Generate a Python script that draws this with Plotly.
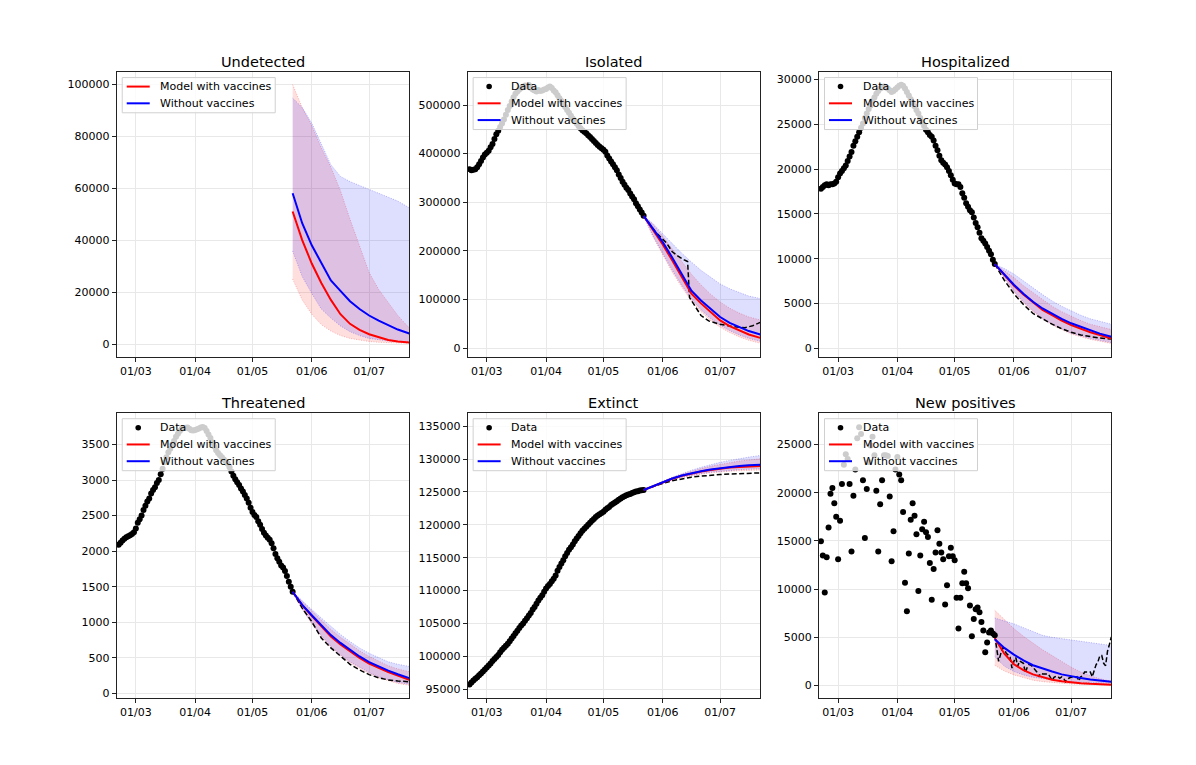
import pandas as pd
import plotly.graph_objects as go

FONT = "DejaVu Sans"
W, H = 1196, 765

# ---- dates ----
data_dates = pd.date_range("2021-02-20", "2021-05-22", freq="D")
after_dates = pd.date_range("2021-05-22", "2021-07-22", freq="D")
model_dates = ["2021-05-22", "2021-05-27", "2021-06-01", "2021-06-06", "2021-06-11",
               "2021-06-16", "2021-06-21", "2021-06-26", "2021-07-01", "2021-07-06",
               "2021-07-11", "2021-07-16", "2021-07-22"]
isolated_after_dates = ["2021-05-22", "2021-05-25", "2021-05-28", "2021-05-31", "2021-06-03",
                        "2021-06-06", "2021-06-09", "2021-06-12", "2021-06-14", "2021-06-15",
                        "2021-06-18", "2021-06-21", "2021-06-25", "2021-07-01", "2021-07-08",
                        "2021-07-14", "2021-07-18", "2021-07-22"]

# ---- Undetected ----
undetected_red = [51000, 40000, 31000, 23500, 17000, 11500, 7800, 5500, 3800, 2600, 1600, 1000, 600]
undetected_blue = [58000, 46500, 38000, 31000, 24500, 20500, 16500, 13500, 11000, 9000, 7200, 5600, 4100]
undetected_red_lo = [25000, 17000, 11500, 7500, 5000, 3300, 2200, 1500, 1000, 700, 500, 400, 300]
undetected_red_hi = [99800, 91000, 84000, 75500, 68000, 59000, 48000, 38000, 27500, 21000, 16000, 11000, 6200]
undetected_blue_lo = [35800, 26000, 19500, 13500, 10000, 7000, 4800, 3300, 2200, 1600, 1200, 1000, 900]
undetected_blue_hi = [94600, 91000, 85000, 77000, 69000, 64500, 62500, 61000, 59500, 58200, 56800, 55000, 52400]

# ---- Isolated ----
isolated_data = [368000, 366000, 367000, 368000, 372000, 378000, 385000, 392000, 398000, 402000,
                 406000, 413000, 420000, 430000, 440000, 447000, 455000, 462000, 470000, 480000,
                 490000, 498000, 507000, 516000, 523000, 528000, 532000, 535000, 537000, 540000,
                 538000, 541000, 535000, 532000, 530000, 528000, 531000, 529000, 530000, 532000,
                 533000, 536000, 538000, 535000, 530000, 526000, 520000, 514000, 508000, 502000,
                 496000, 490000, 484000, 478000, 472000, 467000, 462000, 457000, 452000, 448000,
                 445000, 442000, 438000, 434000, 430000, 426000, 422000, 418000, 414000, 411000,
                 408000, 404000, 396000, 390000, 384000, 378000, 372000, 366000, 357000, 350000,
                 342000, 336000, 330000, 325000, 318000, 312000, 306000, 298000, 292000, 285000,
                 279000, 272000]
isolated_red = [272000, 243000, 213000, 180000, 145000, 112000, 92000, 74000, 57000, 45000, 36000, 28000, 21000]
isolated_blue = [272000, 246000, 218000, 186000, 152000, 118000, 98000, 81000, 64000, 52000, 43000, 35000, 28000]
isolated_red_lo = [272000, 228000, 192000, 156000, 125000, 97000, 75000, 57000, 43000, 32000, 23000, 16000, 10000]
isolated_red_hi = [272000, 254000, 230000, 204000, 178000, 152000, 130000, 111000, 95000, 82000, 72000, 64000, 58000]
isolated_blue_lo = [272000, 230000, 195000, 160000, 129000, 101000, 79000, 61000, 47000, 36000, 27000, 20000, 14000]
isolated_blue_hi = [272000, 256000, 235000, 214000, 195000, 177000, 160000, 146000, 132000, 122000, 114000, 107000, 102000]
isolated_after = [272000, 255000, 240000, 228000, 216000, 198000, 189000, 182000, 178000, 104000,
                  86000, 67000, 56000, 49000, 44000, 42000, 46000, 53000]

# ---- Hospitalized ----
hospitalized_data = [17800, 18000, 18200, 18300, 18200, 18300, 18300, 18400, 18600, 19100,
                     19500, 19800, 20100, 20400, 20900, 21400, 21900, 22600, 23100, 23600,
                     24100, 24600, 25100, 25700, 26200, 26700, 27100, 27600, 28000, 28400,
                     28700, 29000, 29100, 29200, 29100, 29000, 28800, 28600, 28700, 28900,
                     29100, 29300, 29400, 29300, 29000, 28600, 28200, 27800, 27400, 27000,
                     26600, 26200, 25700, 25200, 24800, 24400, 24100, 23800, 23600, 23200,
                     22600, 22100, 21500, 21000, 20700, 20500, 20200, 19800, 19300, 18800,
                     18400, 18300, 18300, 18000, 17300, 16800, 16200, 15800, 15400, 15200,
                     14600, 14000, 13500, 12900, 12300, 12000, 11700, 11300, 10900, 10500,
                     9900, 9400]
hospitalized_red = [9400, 8200, 7000, 6000, 5100, 4300, 3700, 3100, 2600, 2200, 1800, 1500, 1100]
hospitalized_blue = [9400, 8250, 7100, 6100, 5200, 4450, 3850, 3300, 2800, 2400, 2000, 1650, 1300]
hospitalized_red_lo = [9400, 7800, 6300, 5100, 4100, 3300, 2600, 2100, 1600, 1300, 1000, 800, 550]
hospitalized_red_hi = [9400, 8700, 7900, 7000, 6200, 5400, 4700, 4100, 3600, 3100, 2700, 2400, 2100]
hospitalized_blue_lo = [9400, 7900, 6400, 5200, 4200, 3400, 2700, 2200, 1700, 1400, 1100, 900, 650]
hospitalized_blue_hi = [9400, 8900, 8300, 7500, 6700, 6000, 5300, 4700, 4200, 3700, 3300, 3000, 2700]
hospitalized_after = [9400, 7600, 6100, 4900, 3900, 3300, 2700, 2200, 1800, 1500, 1300, 1150, 1050]

# ---- Threatened ----
threatened_data = [2090, 2120, 2150, 2175, 2195, 2210, 2225, 2240, 2265, 2320,
                   2400, 2450, 2500, 2580, 2640, 2700, 2740, 2810, 2860, 2900,
                   2960, 3000, 3080, 3160, 3250, 3320, 3390, 3440, 3500, 3550,
                   3610, 3650, 3690, 3720, 3730, 3735, 3740, 3720, 3700, 3695,
                   3705, 3715, 3725, 3740, 3745, 3730, 3690, 3640, 3590, 3530,
                   3470, 3420, 3380, 3350, 3320, 3290, 3260, 3230, 3180, 3120,
                   3060, 3010, 2970, 2930, 2880, 2840, 2790, 2740, 2680, 2610,
                   2550, 2510, 2480, 2420, 2370, 2310, 2260, 2220, 2190, 2160,
                   2110, 2040, 1960, 1900, 1850, 1800, 1770, 1720, 1650, 1570,
                   1500, 1430]
threatened_red = [1430, 1240, 1090, 940, 800, 690, 590, 500, 420, 355, 300, 250, 190]
threatened_blue = [1430, 1245, 1100, 955, 820, 710, 610, 520, 440, 375, 320, 270, 215]
threatened_red_lo = [1430, 1180, 980, 800, 650, 530, 430, 350, 280, 220, 175, 140, 115]
threatened_red_hi = [1430, 1290, 1160, 1030, 900, 790, 690, 600, 520, 450, 390, 345, 305]
threatened_blue_lo = [1430, 1190, 990, 815, 665, 545, 445, 365, 295, 235, 190, 155, 130]
threatened_blue_hi = [1430, 1300, 1180, 1060, 940, 830, 730, 640, 565, 500, 445, 410, 380]
threatened_after = [1430, 1200, 1010, 780, 640, 520, 410, 330, 265, 220, 190, 175, 165]

# ---- Extinct ----
extinct_data = [95700, 96000, 96300, 96600, 96800, 97100, 97400, 97700, 98000, 98300,
                98600, 98900, 99300, 99600, 99900, 100200, 100600, 101000, 101300, 101600,
                101900, 102300, 102700, 103100, 103500, 103900, 104300, 104700, 105000, 105400,
                105800, 106200, 106600, 107100, 107500, 108000, 108500, 108900, 109300, 109800,
                110300, 110700, 111000, 111400, 111800, 112300, 113000, 113600, 114100, 114600,
                115200, 115700, 116200, 116600, 117000, 117500, 117900, 118300, 118700, 119100,
                119400, 119700, 120000, 120300, 120600, 120900, 121200, 121400, 121600, 121800,
                122000, 122300, 122500, 122700, 123000, 123200, 123400, 123600, 123800, 124000,
                124200, 124350, 124500, 124600, 124700, 124850, 124950, 125050, 125100, 125200,
                125250, 125300]
extinct_red = [125300, 125900, 126500, 127000, 127450, 127800, 128100, 128350, 128550, 128700, 128800, 128900, 128950]
extinct_blue = [125300, 125900, 126500, 127050, 127500, 127850, 128150, 128400, 128600, 128800, 128950, 129050, 129150]
extinct_red_lo = [125300, 125850, 126400, 126850, 127200, 127500, 127700, 127900, 128050, 128150, 128220, 128280, 128320]
extinct_red_hi = [125300, 125950, 126600, 127200, 127700, 128150, 128550, 128900, 129200, 129450, 129700, 129850, 130050]
extinct_blue_lo = [125300, 125850, 126400, 126900, 127250, 127550, 127800, 128000, 128150, 128280, 128380, 128450, 128520]
extinct_blue_hi = [125300, 126000, 126650, 127250, 127800, 128300, 128750, 129150, 129500, 129800, 130100, 130300, 130550]
extinct_after = [125300, 125850, 126300, 126700, 127000, 127250, 127400, 127550, 127650, 127720, 127800, 127850, 127900]

# ---- New positives ----
positives_data = [14970, 13500, 9650, 13300, 16400, 19900, 20500, 18900, 17500, 13100,
                  17100, 20900, 22900, 24000, 23500, 20900, 13900, 19700, 22400, 25650,
                  26800, 26100, 21300, 15300, 20400, 23200, 24900, 25800, 23900, 20200,
                  13900, 18800, 21300, 23900, 23900, 23800, 19600, 12900, 16000, 22400,
                  23700, 21900, 21300, 18000, 10650, 7700, 13700, 17200, 18900, 17600,
                  15700, 9800, 13500, 16200, 17000, 15900, 15400, 12700, 8900, 12100,
                  13800, 16100, 14700, 13800, 13100, 8400, 10400, 13400, 14300, 13400,
                  13000, 9100, 5900, 9100, 10600, 11800, 10600, 10100, 8300, 5100,
                  6900, 7900, 8100, 7600, 6600, 5700, 3450, 4450, 5500, 5700,
                  5400, 5200]
positives_red = [4900, 3300, 2200, 1600, 1150, 850, 600, 450, 330, 240, 170, 120, 80]
positives_blue = [4800, 3900, 3200, 2600, 2100, 1750, 1450, 1150, 950, 780, 630, 500, 380]
positives_red_lo = [2100, 1500, 1100, 800, 550, 400, 300, 220, 160, 120, 90, 70, 50]
positives_red_hi = [7800, 6800, 5900, 5100, 4400, 3700, 3100, 2500, 1900, 1400, 1000, 700, 450]
positives_blue_lo = [3000, 2000, 1450, 1100, 850, 700, 550, 450, 360, 310, 280, 260, 240]
positives_blue_hi = [7000, 6700, 6400, 6000, 5600, 5200, 5000, 4850, 4700, 4600, 4450, 4300, 4150]
positives_after = [5200, 4000, 2500, 3200, 3900, 3800, 3350, 3150, 2950, 1800,
                   2500, 2900, 2000, 2550, 2450, 2300, 1300, 1900, 2200, 2100,
                   1900, 1700, 1400, 900, 1250, 1200, 1200, 1150, 1200, 880,
                   500, 840, 950, 930, 750, 890, 780, 390, 680, 780,
                   880, 800, 810, 900, 480, 900, 1000, 1400, 1400, 1400,
                   1400, 900, 1550, 2150, 2450, 3100, 3100, 2300, 2050, 3550,
                   4250, 5050]

panels = [
    dict(title="Undetected", data=None,
         red=undetected_red, blue=undetected_blue,
         red_lo=undetected_red_lo, red_hi=undetected_red_hi,
         blue_lo=undetected_blue_lo, blue_hi=undetected_blue_hi,
         after_x=None, after_y=None, yrange=[-4870, 104600], dtick=20000),
    dict(title="Isolated", data=isolated_data,
         red=isolated_red, blue=isolated_blue,
         red_lo=isolated_red_lo, red_hi=isolated_red_hi,
         blue_lo=isolated_blue_lo, blue_hi=isolated_blue_hi,
         after_x=isolated_after_dates, after_y=isolated_after, yrange=[-17850, 567700], dtick=100000),
    dict(title="Hospitalized", data=hospitalized_data,
         red=hospitalized_red, blue=hospitalized_blue,
         red_lo=hospitalized_red_lo, red_hi=hospitalized_red_hi,
         blue_lo=hospitalized_blue_lo, blue_hi=hospitalized_blue_hi,
         after_x=model_dates, after_y=hospitalized_after, yrange=[-935, 30820], dtick=5000),
    dict(title="Threatened", data=threatened_data,
         red=threatened_red, blue=threatened_blue,
         red_lo=threatened_red_lo, red_hi=threatened_red_hi,
         blue_lo=threatened_blue_lo, blue_hi=threatened_blue_hi,
         after_x=model_dates, after_y=threatened_after, yrange=[-66, 3939], dtick=500),
    dict(title="Extinct", data=extinct_data,
         red=extinct_red, blue=extinct_blue,
         red_lo=extinct_red_lo, red_hi=extinct_red_hi,
         blue_lo=extinct_blue_lo, blue_hi=extinct_blue_hi,
         after_x=model_dates, after_y=extinct_after, yrange=[93635, 136970], dtick=5000),
    dict(title="New positives", data=positives_data,
         red=positives_red, blue=positives_blue,
         red_lo=positives_red_lo, red_hi=positives_red_hi,
         blue_lo=positives_blue_lo, blue_hi=positives_blue_hi,
         after_x=after_dates, after_y=positives_after, yrange=[-1314, 28250], dtick=5000),
]

x_domains = [[0.0976, 0.3422], [0.3910, 0.6357], [0.6848, 0.9292]]
y_domains = [[0.5324, 0.9055], [0.0850, 0.4584]]


def px(x, y):
    # pixel position on the page -> paper coordinates
    return x / W, 1 - y / H


def add_legend(fig, left, top, items):
    # matplotlib-like legend box drawn in the top left corner of an axis
    bx0, by0 = left + 5.5, top + 5.5
    bx1, by1 = bx0 + 153, by0 + 1.7 + 16.8 * len(items)
    x0, y0 = px(bx0, by0)
    x1, y1 = px(bx1, by1)
    fig.add_shape(type="rect", xref="paper", yref="paper", x0=x0, y0=y1, x1=x1, y1=y0,
                  fillcolor="rgba(255,255,255,0.8)", line=dict(color="#d0d0d0", width=1),
                  layer="above")
    for k, (label, kind, color) in enumerate(items):
        cy = by0 + 9 + 16.8 * k
        if kind == "marker":
            cx0, cy0 = px(bx0 + 16 - 2.8, cy - 2.8)
            cx1, cy1 = px(bx0 + 16 + 2.8, cy + 2.8)
            fig.add_shape(type="circle", xref="paper", yref="paper",
                          x0=cx0, y0=cy1, x1=cx1, y1=cy0,
                          fillcolor=color, line=dict(color=color, width=0), layer="above")
        else:
            lx0, ly = px(bx0 + 4.5, cy)
            lx1, _ = px(bx0 + 27.5, cy)
            fig.add_shape(type="line", xref="paper", yref="paper",
                          x0=lx0, y0=ly, x1=lx1, y1=ly,
                          line=dict(color=color, width=2), layer="above")
        tx, ty = px(bx0 + 36, cy)
        fig.add_annotation(text=label, x=tx, y=ty, xref="paper", yref="paper",
                           xanchor="left", yanchor="middle", showarrow=False,
                           font=dict(family=FONT, size=11, color="black"))


fig = go.Figure()

for i, p in enumerate(panels):
    n = i + 1
    xa = "x" if n == 1 else f"x{n}"
    ya = "y" if n == 1 else f"y{n}"

    # bands (fill between lower and upper)
    for lo, hi, rgb in [(p["red_lo"], p["red_hi"], "255,0,0"), (p["blue_lo"], p["blue_hi"], "0,0,255")]:
        edge = dict(color=f"rgba({rgb},0.35)", width=0.8, dash="1px,1.5px")
        fig.add_trace(go.Scatter(x=model_dates, y=lo, mode="lines", line=edge,
                                 xaxis=xa, yaxis=ya, showlegend=False, hoverinfo="skip"))
        fig.add_trace(go.Scatter(x=model_dates, y=hi, mode="lines", line=edge,
                                 fill="tonexty", fillcolor=f"rgba({rgb},0.13)",
                                 xaxis=xa, yaxis=ya, showlegend=False, hoverinfo="skip"))

    if p["after_x"] is not None:
        fig.add_trace(go.Scatter(x=p["after_x"], y=p["after_y"], mode="lines",
                                 line=dict(color="black", width=1.5, dash="5px,2.5px"),
                                 xaxis=xa, yaxis=ya, showlegend=False))

    if p["data"] is not None:
        fig.add_trace(go.Scatter(x=data_dates, y=p["data"], mode="markers", name="Data",
                                 marker=dict(color="black", size=6),
                                 xaxis=xa, yaxis=ya, showlegend=False))

    fig.add_trace(go.Scatter(x=model_dates, y=p["red"], mode="lines", name="Model with vaccines",
                             line=dict(color="red", width=2),
                             xaxis=xa, yaxis=ya, showlegend=False))
    fig.add_trace(go.Scatter(x=model_dates, y=p["blue"], mode="lines", name="Without vaccines",
                             line=dict(color="blue", width=2),
                             xaxis=xa, yaxis=ya, showlegend=False))

    row, col = divmod(i, 3)
    xd = x_domains[col]
    yd = y_domains[row]

    axis_common = dict(showline=True, mirror=True, linecolor="#222222", linewidth=1,
                       showgrid=True, gridcolor="#e8e8e8", gridwidth=1, zeroline=False,
                       ticks="outside", ticklen=4, tickcolor="#222222",
                       tickfont=dict(family=FONT, size=11, color="black"))
    fig.update_layout({
        ("xaxis" if n == 1 else f"xaxis{n}"): dict(
            domain=xd, anchor=ya, type="date",
            range=["2021-02-19", "2021-07-22"],
            tick0="2021-03-01", dtick="M1", tickformat="%d/%m", **axis_common),
        ("yaxis" if n == 1 else f"yaxis{n}"): dict(
            domain=yd, anchor=xa, range=p["yrange"], dtick=p["dtick"],
            tickformat="d", **axis_common),
    })

    items = []
    if p["data"] is not None:
        items.append(("Data", "marker", "black"))
    items.append(("Model with vaccines", "line", "red"))
    items.append(("Without vaccines", "line", "blue"))
    add_legend(fig, xd[0] * W, (1 - yd[1]) * H, items)

    fig.add_annotation(text=p["title"], x=(xd[0] + xd[1]) / 2, y=yd[1] + 0.0137,
                       xref="paper", yref="paper", xanchor="center", yanchor="middle",
                       showarrow=False, font=dict(family=FONT, size=14.5, color="black"))

fig.update_layout(width=W, height=H, margin=dict(l=0, r=0, t=0, b=0),
                  paper_bgcolor="white", plot_bgcolor="white", showlegend=False,
                  font=dict(family=FONT, size=11, color="black"))

fig.write_html("out.html", config={"displayModeBar": False},
               post_script="document.body.style.margin='0';")
